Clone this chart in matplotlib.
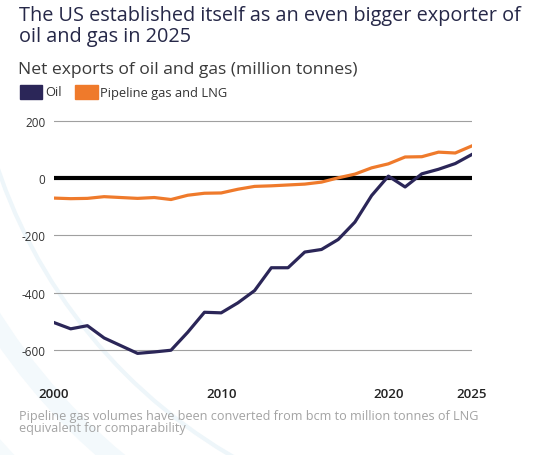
import matplotlib.pyplot as plt
from matplotlib.patches import Rectangle, Arc

plt.rcParams['font.family'] = ['Open Sans', 'DejaVu Sans']

years = list(range(2000, 2026))
oil = [-505, -527, -516, -559, -586, -613, -608, -602, -539, -469,
       -471, -436, -393, -313, -313, -258, -249, -214, -153, -60,
       8, -30, 16, 32, 52, 84]
gas = [-69, -71, -70, -64, -67, -70, -67, -74, -59, -52,
       -51, -38, -28, -26, -23, -20, -13, 2, 15, 37,
       51, 75, 76, 92, 89, 114]
yticks = [-600, -400, -200, 0, 200]
xticks = [2000, 2010, 2020, 2025]

OIL_C = "#2b2658"
GAS_C = "#ef7a2b"
W, H = 545, 456

fig = plt.figure(figsize=(5.45, 4.56), dpi=100)

# very faint decorative arcs on the left, centred up and to the right
for r, lw, c in [(530, 3, "#eef6fa"), (600, 14, "#f3f9fc"), (680, 20, "#f5fafc")]:
    fig.add_artist(Arc((500 / W, 1.0), 2 * r / W, 2 * r / H, theta1=180, theta2=270,
                       transform=fig.transFigure, color=c, lw=lw, zorder=0))

ax = fig.add_axes([0.099, 0.1684, 0.767, 0.5665])
ax.set_facecolor("none")
ax.plot(years, gas, color=GAS_C, lw=2.3, zorder=3, solid_joinstyle="round")
ax.plot(years, oil, color=OIL_C, lw=2.3, zorder=4, solid_joinstyle="round")
ax.axhline(0, color="black", lw=3, zorder=2)
for v in yticks:
    if v != 0:
        ax.axhline(v, color="#a0a0a0", lw=0.8, zorder=1)

ax.set_xlim(2000, 2025)
ax.set_ylim(-700, 205)
ax.set_yticks(yticks)
ax.set_yticklabels([str(v) for v in yticks], fontsize=8.5, color="#333333")
ax.set_xticks(xticks)
ax.set_xticklabels([str(v) for v in xticks], fontsize=9.5, color="#222222",
                   fontweight="semibold")
ax.tick_params(length=0)
ax.tick_params(axis="x", pad=6)
ax.tick_params(axis="y", pad=6)
for s in ax.spines.values():
    s.set_visible(False)

fig.text(19 / W, 1 - 6 / H,
         "The US established itself as an even bigger exporter of\noil and gas in 2025",
         fontsize=14.3, color="#262848", fontweight="medium",
         va="top", ha="left", linespacing=1.05)
fig.text(18 / W, 1 - 74 / H, "Net exports of oil and gas (million tonnes)",
         fontsize=12.6, color="#3a3a3a", va="baseline", ha="left")

# legend
fig.add_artist(Rectangle((20 / W, 1 - 100 / H), 22 / W, 14 / H,
                         transform=fig.transFigure, color=OIL_C))
fig.text(45 / W, 1 - 93 / H, "Oil", fontsize=9.3, color="#333333", va="center")
fig.add_artist(Rectangle((75 / W, 1 - 100 / H), 23 / W, 14 / H,
                         transform=fig.transFigure, color=GAS_C))
fig.text(100 / W, 1 - 93 / H, "Pipeline gas and LNG", fontsize=9.3,
         color="#333333", va="center")

fig.text(19 / W, 1 - 410 / H,
         "Pipeline gas volumes have been converted from bcm to million tonnes of LNG\nequivalent for comparability",
         fontsize=9.1, color="#a3a3a3", va="top", ha="left", linespacing=0.92)

fig.savefig("out.png", dpi=100)
